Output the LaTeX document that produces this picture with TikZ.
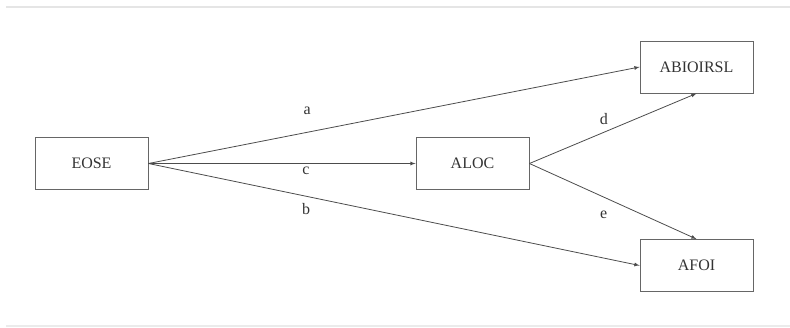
\documentclass[tikz,border=0pt]{standalone}
\usepackage{fontspec}
\setmainfont{Liberation Serif}
\usepackage{tikz}
\usetikzlibrary{arrows}

\begin{document}
\begin{tikzpicture}[x=1pt, y=-1pt,
				   every node/.style={inner sep=0pt, text=black!80},
				   box/.style={draw=black!60, line width=0.9pt, minimum width=113pt, minimum height=52pt, font=\fontsize{16}{19}\selectfont},
				   lbl/.style={font=\fontsize{16}{19}\selectfont},
				   link/.style={draw=black!70, line width=0.8pt, -latex}]

\useasboundingbox (0,0) rectangle (790,327);
\draw[black!10, line width=2pt] (6,7) -- (790,7);
\draw[black!8, line width=2pt] (6,326) -- (790,326);

\node[box] (eose) at (91.5,163.5) {EOSE};
\node[box] (aloc) at (472.5,163.5) {ALOC};
\node[box] (abio) at (696.5,67) {ABIOIRSL};
\node[box] (afoi) at (696.5,265.5) {AFOI};

\draw[link] (eose.east) -- (abio.west) node[lbl, pos=0.323, yshift=22pt] {a};
\draw[link] (eose.east) -- (aloc.west) node[lbl, pos=0.59, yshift=-7pt] {c};
\draw[link] (eose.east) -- (afoi.west) node[lbl, pos=0.321, yshift=-13pt] {b};
\draw[link] (aloc.east) -- (abio.south) node[lbl, pos=0.445, yshift=13pt] {d};
\draw[link] (aloc.east) -- (afoi.north) node[lbl, pos=0.445, yshift=-18pt] {e};

\end{tikzpicture}
\end{document}
